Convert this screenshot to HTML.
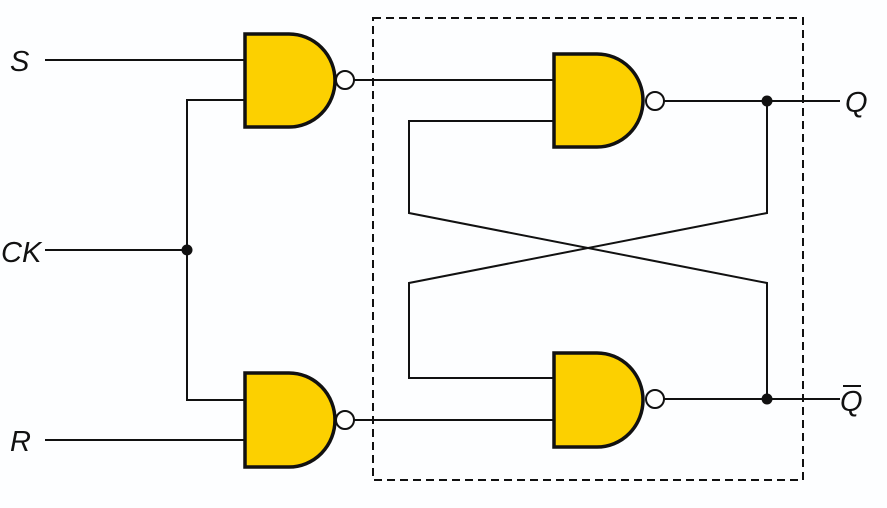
<!DOCTYPE html>
<html><head><meta charset="utf-8"><style>
html,body{margin:0;padding:0;background:#fdfeff;}
svg{display:block;}
text{font-family:"Liberation Sans",sans-serif;font-style:italic;font-size:29px;fill:#111;}
</style></head><body>
<svg width="887" height="508" viewBox="0 0 887 508" xmlns="http://www.w3.org/2000/svg">
<g stroke="#111" stroke-width="2" fill="none">
<rect x="373" y="18" width="430" height="462" stroke-dasharray="8,5"/>
<line x1="45" y1="60" x2="245" y2="60"/>
<line x1="45" y1="250" x2="187" y2="250"/>
<line x1="45" y1="440" x2="245" y2="440"/>
<polyline points="245,100 187,100 187,400 245,400"/>
<line x1="354" y1="80" x2="554" y2="80"/>
<line x1="354" y1="420" x2="554" y2="420"/>
<line x1="664" y1="101" x2="840" y2="101"/>
<line x1="664" y1="399" x2="840" y2="399"/>
<polyline points="554,121 409,121 409,213 767,283 767,399"/>
<polyline points="554,378 409,378 409,283 767,213 767,101"/>
</g>
<g stroke="#111" stroke-width="3.5" fill="#fcd000">
<path d="M245,34 H289 A46,46.5 0 0 1 289,127 H245 Z"/>
<path d="M245,373 H289 A46,47 0 0 1 289,467 H245 Z"/>
<path d="M554,54 H597 A46,46.5 0 0 1 597,147 H554 Z"/>
<path d="M554,353 H597 A46,47 0 0 1 597,447 H554 Z"/>
</g>
<g stroke="#111" stroke-width="2" fill="#fff">
<circle cx="345" cy="80" r="9"/>
<circle cx="345" cy="420" r="9"/>
<circle cx="655" cy="101" r="9"/>
<circle cx="655" cy="399" r="9"/>
</g>
<g fill="#111">
<circle cx="187" cy="250" r="5.5"/>
<circle cx="767" cy="101" r="5.5"/>
<circle cx="767" cy="399" r="5.5"/>
</g>
<text x="10" y="71">S</text>
<text x="1" y="262">CK</text>
<text x="10" y="451">R</text>
<text x="845" y="112">Q</text>
<text x="840" y="411">Q</text>
<line x1="843" y1="386" x2="861" y2="386" stroke="#111" stroke-width="2"/>
</svg>
</body></html>
